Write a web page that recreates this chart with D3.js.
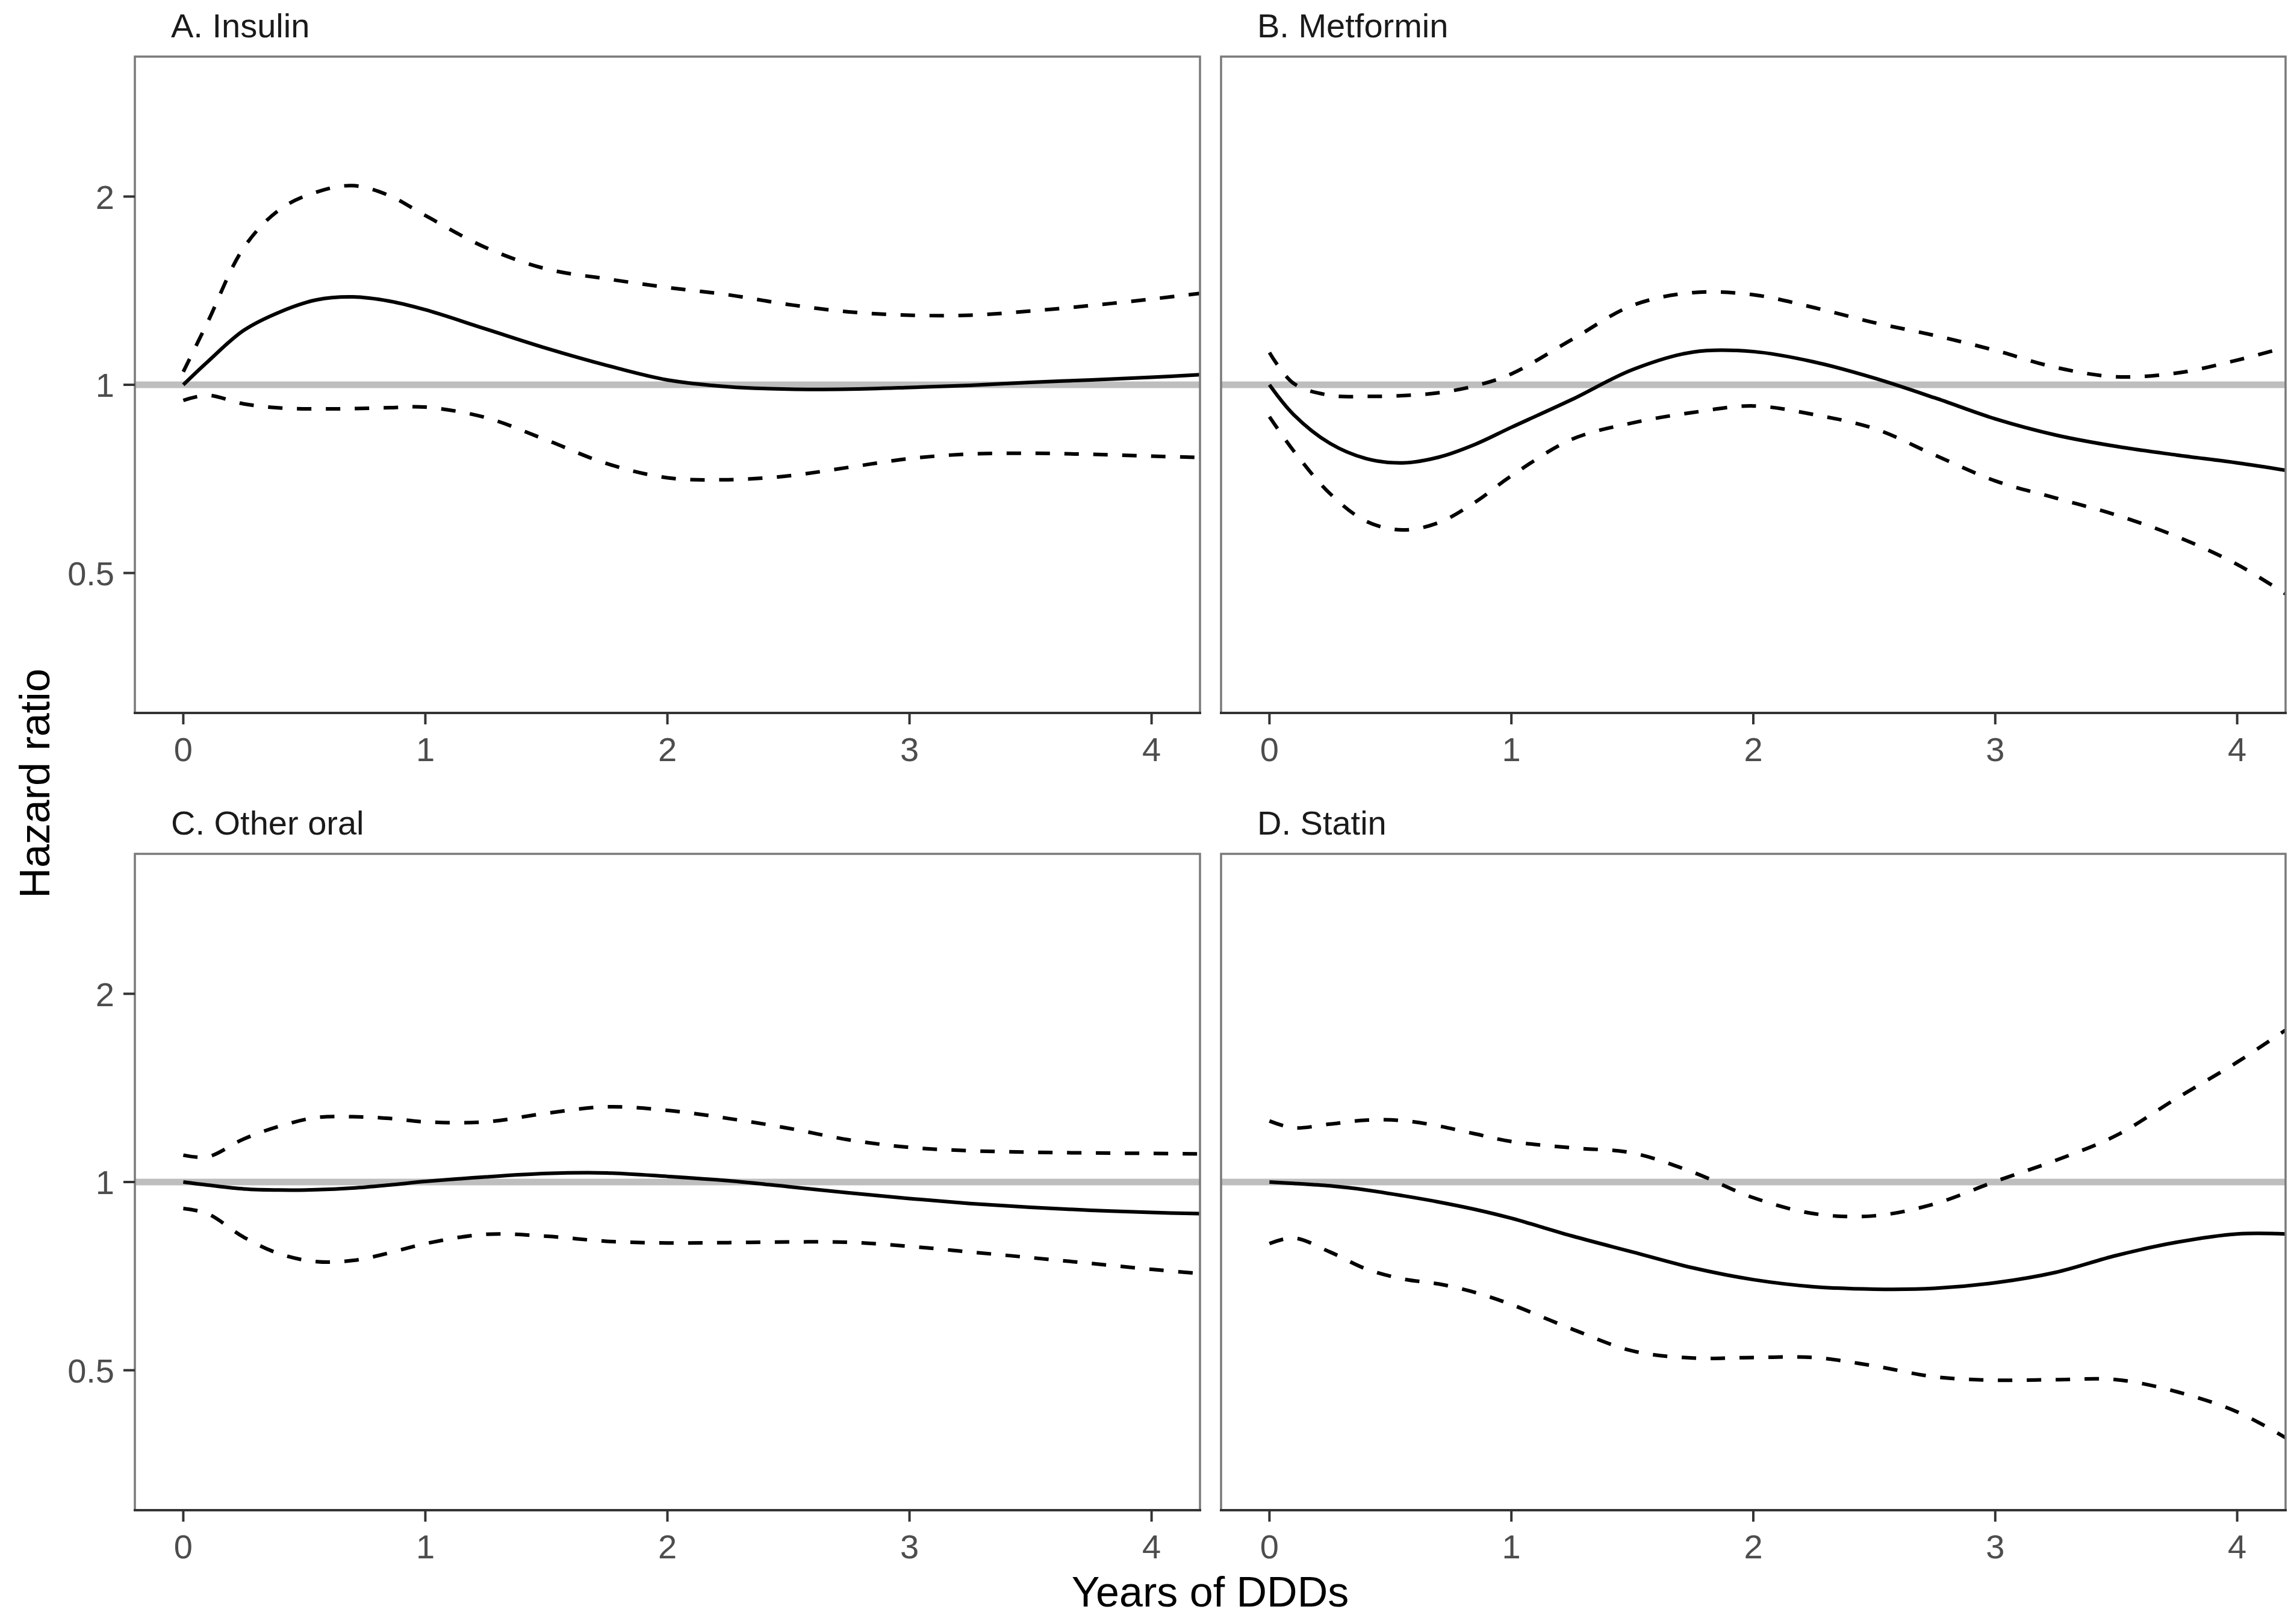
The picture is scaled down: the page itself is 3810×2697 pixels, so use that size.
<!DOCTYPE html>
<meta charset="utf-8">
<style>
    body { margin: 0; background: #fff; }
    svg { display: block; font-family: "Liberation Sans", Arial, sans-serif; }
    .ref { stroke: #bebebe; stroke-width: 11; }
    .est { fill: none; stroke: #000; stroke-width: 6; }
    .ci { fill: none; stroke: #000; stroke-width: 6; stroke-dasharray: 24 24; }
    .border { fill: none; stroke: #7a7a7a; stroke-width: 3.5; }
    .tick line { stroke: #333; stroke-width: 4; }
    .tick text { fill: #4d4d4d; font-size: 56px; }
    .strip { fill: #1a1a1a; font-size: 56px; }
    .title { fill: #000; font-size: 70px; }
</style>
<svg width="3810" height="2697"></svg>
<script src="https://d3js.org/d3.v7.min.js"></script>
<script>

    // years of DDDs at which the curves were read
    var years = [0, 0.1, 0.25, 0.4, 0.55, 0.7, 0.85, 1, 1.25, 1.5, 1.75, 2, 2.25, 2.5, 2.75, 3, 3.25, 3.5, 3.75, 4, 4.2];

    // hazard ratios: estimate, lower and upper confidence band
    var insulinHR = [1.00, 1.088, 1.222, 1.308, 1.367, 1.382, 1.361, 1.318, 1.228, 1.144, 1.074, 1.018, 0.993, 0.984, 0.984, 0.990, 0.998, 1.009, 1.018, 1.028, 1.038];
    var insulinLo = [0.944, 0.962, 0.932, 0.918, 0.915, 0.916, 0.919, 0.921, 0.886, 0.816, 0.748, 0.710, 0.705, 0.715, 0.738, 0.762, 0.775, 0.777, 0.774, 0.769, 0.765];
    var insulinHi = [1.049, 1.258, 1.657, 1.909, 2.033, 2.082, 2.008, 1.865, 1.657, 1.532, 1.477, 1.431, 1.393, 1.344, 1.308, 1.292, 1.292, 1.312, 1.339, 1.371, 1.400];

    var metforminHR = [1.00, 0.896, 0.806, 0.762, 0.750, 0.766, 0.803, 0.855, 0.947, 1.057, 1.128, 1.130, 1.088, 1.025, 0.953, 0.882, 0.831, 0.797, 0.772, 0.750, 0.730];
    var metforminLo = [0.889, 0.784, 0.670, 0.605, 0.586, 0.602, 0.649, 0.715, 0.818, 0.869, 0.903, 0.925, 0.896, 0.851, 0.772, 0.702, 0.659, 0.619, 0.572, 0.516, 0.463];
    var metforminHi = [1.126, 1.005, 0.962, 0.958, 0.961, 0.971, 0.996, 1.041, 1.181, 1.339, 1.404, 1.393, 1.329, 1.257, 1.199, 1.135, 1.066, 1.030, 1.044, 1.095, 1.148];

    var otherHR = [1.00, 0.989, 0.975, 0.971, 0.972, 0.978, 0.989, 1.002, 1.019, 1.032, 1.034, 1.021, 1.005, 0.983, 0.961, 0.941, 0.924, 0.911, 0.901, 0.894, 0.890];
    var otherLo = [0.907, 0.890, 0.816, 0.767, 0.746, 0.749, 0.770, 0.797, 0.825, 0.819, 0.804, 0.799, 0.800, 0.802, 0.801, 0.789, 0.773, 0.757, 0.741, 0.725, 0.714];
    var otherHi = [1.104, 1.097, 1.172, 1.229, 1.268, 1.272, 1.264, 1.248, 1.248, 1.288, 1.319, 1.302, 1.264, 1.219, 1.168, 1.136, 1.122, 1.116, 1.113, 1.111, 1.109];

    var statinHR = [1.00, 0.995, 0.986, 0.971, 0.951, 0.929, 0.904, 0.875, 0.820, 0.773, 0.729, 0.698, 0.680, 0.674, 0.676, 0.690, 0.717, 0.763, 0.801, 0.826, 0.826];
    var statinLo = [0.797, 0.814, 0.773, 0.726, 0.700, 0.687, 0.666, 0.637, 0.582, 0.537, 0.523, 0.524, 0.524, 0.508, 0.488, 0.482, 0.483, 0.483, 0.462, 0.429, 0.390];
    var statinHi = [1.252, 1.221, 1.238, 1.256, 1.254, 1.229, 1.194, 1.161, 1.134, 1.113, 1.037, 0.944, 0.890, 0.883, 0.923, 1.002, 1.083, 1.187, 1.361, 1.555, 1.750];

    var panelTitles = ["A. Insulin", "B. Metformin", "C. Other oral", "D. Statin"];
    var xTicks = [0, 1, 2, 3, 4];
    var yTicks = [0.5, 1, 2];

    var panels = [
        { title: panelTitles[0], hr: insulinHR, lo: insulinLo, hi: insulinHi, col: 0, row: 0 },
        { title: panelTitles[1], hr: metforminHR, lo: metforminLo, hi: metforminHi, col: 1, row: 0 },
        { title: panelTitles[2], hr: otherHR, lo: otherLo, hi: otherHi, col: 0, row: 1 },
        { title: panelTitles[3], hr: statinHR, lo: statinLo, hi: statinHi, col: 1, row: 1 }
    ];

    var svg = d3.select("svg");

    var cols = [[224, 1993], [2028, 3796]],
        rows = [[94, 1184], [1418, 2508]];

    // limits 0..4 and 1/3..3, expanded by 5% like ggplot
    var yLo = 1 / 3, yHi = 3, pad = Math.pow(yHi / yLo, 0.05);

    panels.forEach(function (p, i) {
        var x = d3.scaleLinear().domain([-0.2, 4.2]).range(cols[p.col]);
        var y = d3.scaleLog().domain([yLo / pad, yHi * pad]).range([rows[p.row][1], rows[p.row][0]]);
        var x0 = cols[p.col][0], x1 = cols[p.col][1], y0 = rows[p.row][0], y1 = rows[p.row][1];

        var g = svg.append("g");

        g.append("clipPath").attr("id", "clip" + i)
            .append("rect")
            .attr("x", x0).attr("y", y0)
            .attr("width", x1 - x0).attr("height", y1 - y0);

        var plot = g.append("g").attr("clip-path", "url(#clip" + i + ")");

        plot.append("line")
            .attr("class", "ref")
            .attr("x1", x0).attr("x2", x1)
            .attr("y1", y(1)).attr("y2", y(1));

        function makeLine(vals) {
            return d3.line()
                .x(function (d, j) { return x(years[j]); })
                .y(function (d) { return y(d); })
                .curve(d3.curveCatmullRom.alpha(0.5))(vals);
        }

        plot.append("path").attr("class", "ci").attr("d", makeLine(p.lo));
        plot.append("path").attr("class", "ci").attr("d", makeLine(p.hi));
        plot.append("path").attr("class", "est").attr("d", makeLine(p.hr));

        g.append("rect")
            .attr("class", "border")
            .attr("x", x0).attr("y", y0)
            .attr("width", x1 - x0).attr("height", y1 - y0);

        g.append("line")
            .attr("x1", x0 - 2).attr("x2", x1 + 2)
            .attr("y1", y1).attr("y2", y1)
            .attr("stroke", "#333").attr("stroke-width", 4);

        var xt = g.selectAll(".xt").data(xTicks).enter().append("g")
            .attr("class", "tick")
            .attr("transform", function (d) { return "translate(" + x(d) + "," + y1 + ")"; });
        xt.append("line").attr("y1", 0).attr("y2", 19);
        xt.append("text")
            .attr("y", 80)
            .attr("text-anchor", "middle")
            .text(function (d) { return d; });

        if (p.col === 0) {
            var yt = g.selectAll(".yt").data(yTicks).enter().append("g")
                .attr("class", "tick")
                .attr("transform", function (d) { return "translate(" + x0 + "," + y(d) + ")"; });
            yt.append("line").attr("x1", 0).attr("x2", -19);
            yt.append("text")
                .attr("x", -34)
                .attr("dy", "0.36em")
                .attr("text-anchor", "end")
                .text(function (d) { return d; });
        }

        g.append("text")
            .attr("class", "strip")
            .attr("x", x0 + 60)
            .attr("y", y0 - 32)
            .text(p.title);
    });

    svg.append("text")
        .attr("class", "title")
        .attr("text-anchor", "middle")
        .attr("transform", "translate(82," + (rows[0][0] + rows[1][1]) / 2 + ") rotate(-90)")
        .text("Hazard ratio");

    svg.append("text")
        .attr("class", "title")
        .attr("text-anchor", "middle")
        .attr("x", (cols[0][0] + cols[1][1]) / 2)
        .attr("y", 2668)
        .text("Years of DDDs");

</script>
